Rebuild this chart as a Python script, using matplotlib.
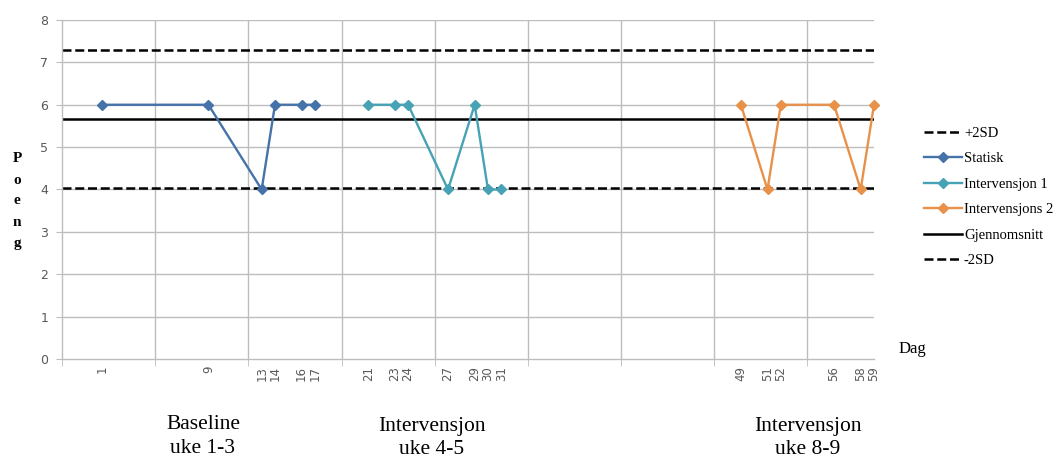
import matplotlib
matplotlib.use("Agg")
import matplotlib.pyplot as plt
from matplotlib.lines import Line2D
import numpy as np

# data
statisk_days = [1, 9, 13, 14, 16, 17]
statisk_vals = [6, 6, 4, 6, 6, 6]
int1_days = [21, 23, 24, 27, 29, 30, 31]
int1_vals = [6, 6, 6, 4, 6, 4, 4]
int2_days = [49, 51, 52, 56, 58, 59]
int2_vals = [6, 4, 6, 6, 4, 6]
mean_val = 5.67
plus_2sd = 7.30
minus_2sd = 4.03
phase_labels = [("Baseline", "uke 1-3"), ("Intervensjon", "uke 4-5"), ("Intervensjon", "uke 8-9")]
phase_x = [203, 432, 808]

BLUE = "#4672AA"
TEAL = "#46A2B4"
ORANGE = "#E8914A"
GRID = "#BDBDBD"
TICK = "#595959"
SERIF = "Liberation Serif"

fig = plt.figure(figsize=(10.6, 4.59), dpi=100)
ax = fig.add_axes([62 / 1060, 1 - 359 / 459, (874 - 62) / 1060, (359 - 20) / 459])

x0, x1 = -2, 59
ax.set_xlim(x0, x1)
ax.set_ylim(0, 8)

# grid: horizontal every unit, vertical every 7 days
for y in range(1, 9):
    ax.axhline(y, color=GRID, lw=1.0, zorder=0)
for gx in np.arange(x0 + 7, x1, 7):
    ax.axvline(gx, color=GRID, lw=1.0, zorder=0)

dash = (3.6, 1.5)
ax.axhline(plus_2sd, color="black", lw=1.8, ls=(0, dash), zorder=2)
ax.axhline(minus_2sd, color="black", lw=1.8, ls=(0, dash), zorder=2)
ax.axhline(mean_val, color="black", lw=1.8, zorder=2)

mk = dict(marker="D", markersize=5.5, lw=1.7, zorder=3, clip_on=False)
ax.plot(statisk_days, statisk_vals, color=BLUE, **mk)
ax.plot(int1_days, int1_vals, color=TEAL, **mk)
ax.plot(int2_days, int2_vals, color=ORANGE, **mk)

for s in ["top", "right"]:
    ax.spines[s].set_visible(False)
for s in ["left", "bottom"]:
    ax.spines[s].set_color(GRID)
    ax.spines[s].set_linewidth(1.0)

ax.set_yticks(range(0, 9))
ax.tick_params(axis="y", colors=GRID, labelcolor=TICK, labelsize=9, length=4, pad=6)

all_days = statisk_days + int1_days + int2_days
ax.set_xticks(all_days)
ax.set_xticklabels([str(d) for d in all_days], rotation=90, fontsize=8.5, color=TICK)
ax.tick_params(axis="x", which="major", length=0, pad=5)
ax.set_xticks(np.arange(x0, x1, 7), minor=True)
ax.tick_params(axis="x", which="minor", length=5, color=GRID)

# vertical stacked y label
for i, ch in enumerate("Poeng"):
    fig.text(17 / 1060, 1 - (159 + i * 21) / 459, ch, family=SERIF, fontsize=11,
             ha="center", va="center", weight="bold")

fig.text(912 / 1060, 1 - 349 / 459, "Dag", family=SERIF, fontsize=12, ha="center", va="center")

for (l1, l2), px in zip(phase_labels, phase_x):
    dy = 0 if l1 == "Baseline" else 1.5
    fig.text(px / 1060, 1 - (429 + dy) / 459, l1, family=SERIF, fontsize=15.5,
             ha="center", va="baseline")
    fig.text(px / 1060, 1 - (453 + dy) / 459, l2, family=SERIF, fontsize=15.5,
             ha="center", va="baseline")

handles = [
    Line2D([], [], color="black", lw=1.8, ls=(0, dash)),
    Line2D([], [], color=BLUE, lw=1.7, marker="D", markersize=5.5),
    Line2D([], [], color=TEAL, lw=1.7, marker="D", markersize=5.5),
    Line2D([], [], color=ORANGE, lw=1.7, marker="D", markersize=5.5),
    Line2D([], [], color="black", lw=1.8),
    Line2D([], [], color="black", lw=1.8, ls=(0, dash)),
]
labels = ["+2SD", "Statisk", "Intervensjon 1", "Intervensjons 2", "Gjennomsnitt", "-2SD"]
fig.legend(handles, labels, loc="upper left", bbox_to_anchor=(918 / 1060, 1 - 121 / 459),
           frameon=False, numpoints=1, handlelength=2.6, handletextpad=0.15,
           labelspacing=0.84, prop={"family": SERIF, "size": 10.5}, borderaxespad=0)

fig.savefig("out.png", dpi=100)
plt.close(fig)
